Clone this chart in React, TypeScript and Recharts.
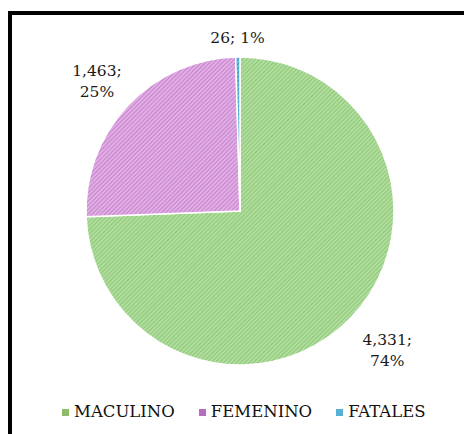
import React from "react";
import { PieChart, Pie, Cell, Legend } from "recharts";

const categories = ["MACULINO", "FEMENINO", "FATALES"];
const values = [4331, 1463, 26];
const percentLabels = ["74%", "25%", "1%"];
const valueLabels = ["4,331", "1,463", "26"];

const data = categories.map((name, i) => ({ name, value: values[i] }));

const patternLight = ["#b4e1a1", "#e3b3e6", "#6fc0e0"];
const patternDark = ["#8fc679", "#c883ce", "#3f95bd"];
const legendColors = ["#8dbb6a", "#b86cc0", "#57b0d6"];

const FONT = "DejaVu Serif";
const RADIAN = Math.PI / 180;

const labelExtra = [45, 42, 20];
const labelNudge = [
  [4, -1],
  [0, 2],
  [0, 1],
];

const renderLabel = (props: any) => {
  const { cx, cy, midAngle, outerRadius, index } = props;
  const r = outerRadius + labelExtra[index];
  const x = cx + r * Math.cos(-midAngle * RADIAN) + labelNudge[index][0];
  const y = cy + r * Math.sin(-midAngle * RADIAN) + labelNudge[index][1];
  const common = {
    fontFamily: FONT,
    fontSize: 15.5,
    fill: "#1a1a1a",
    textAnchor: "middle" as const,
  };
  if (index === 2) {
    return (
      <text x={x} y={y} dominantBaseline="central" {...common}>
        {`${valueLabels[index]}; ${percentLabels[index]}`}
      </text>
    );
  }
  return (
    <text x={x} y={y} {...common}>
      <tspan x={x} dy={-3}>{`${valueLabels[index]};`}</tspan>
      <tspan x={x} dy={21}>{percentLabels[index]}</tspan>
    </text>
  );
};

const renderLegend = () => (
  <div
    style={{
      display: "flex",
      alignItems: "center",
      fontFamily: FONT,
      fontSize: 16.5,
      color: "#111",
      lineHeight: "20px",
    }}
  >
    {categories.map((c, i) => (
      <div
        key={c}
        style={{ display: "flex", alignItems: "center", marginRight: 24 }}
      >
        <span
          style={{
            display: "inline-block",
            width: 7,
            height: 7,
            background: legendColors[i],
            marginRight: 5,
          }}
        />
        <span>{c}</span>
      </div>
    ))}
  </div>
);

export default function App() {
  return (
    <div
      style={{
        position: "absolute",
        left: 0,
        top: 0,
        width: 464,
        height: 434,
        background: "#fff",
      }}
    >
      <div
        style={{
          position: "absolute",
          left: 8,
          top: 11,
          width: 460,
          height: 430,
          borderLeft: "4px solid #000",
          borderTop: "4px solid #000",
          boxSizing: "border-box",
        }}
      />
      <div style={{ position: "absolute", left: 0, top: 0 }}>
        <PieChart
          width={464}
          height={434}
          margin={{ top: 0, right: 0, bottom: 0, left: 0 }}
        >
          <defs>
            {patternLight.map((light, i) => (
              <pattern
                key={i}
                id={`hatch${i}`}
                width={3}
                height={3}
                patternUnits="userSpaceOnUse"
                patternTransform="rotate(45)"
              >
                <rect width={3} height={3} fill={light} />
                <rect width={1.2} height={3} fill={patternDark[i]} />
              </pattern>
            ))}
          </defs>
          <Pie
            data={data}
            dataKey="value"
            nameKey="name"
            cx={240}
            cy={211}
            outerRadius={154}
            startAngle={90}
            endAngle={-270}
            stroke="#ffffff"
            strokeWidth={1.5}
            label={renderLabel}
            labelLine={false}
            isAnimationActive={false}
          >
            {data.map((d, i) => (
              <Cell key={d.name} fill={`url(#hatch${i})`} />
            ))}
          </Pie>
          <Legend
            content={renderLegend}
            wrapperStyle={{ position: "absolute", left: 62, top: 402, width: 400 }}
          />
        </PieChart>
      </div>
    </div>
  );
}
